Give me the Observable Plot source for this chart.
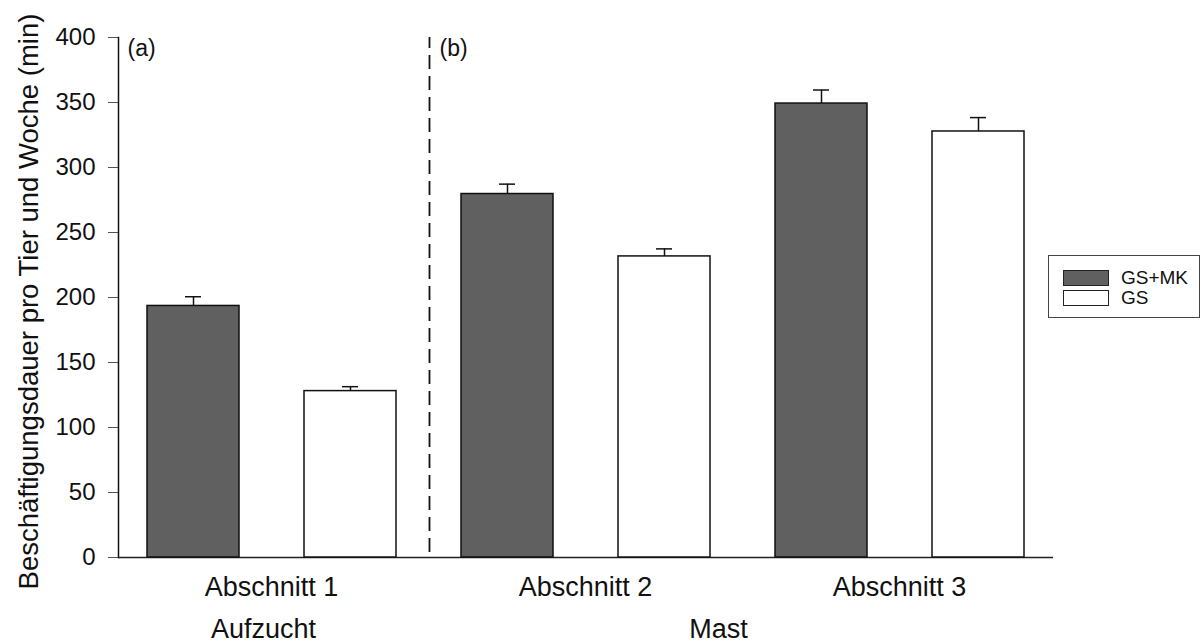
<!DOCTYPE html>
<html>
<head>
<meta charset="utf-8">
<script src="https://cdn.jsdelivr.net/npm/d3@7"></script>
<script src="https://cdn.jsdelivr.net/npm/@observablehq/plot@0.6"></script>
<style>
  html, body { margin: 0; padding: 0; background: #fff; }
  #wrap { position: relative; width: 1201px; height: 644px; font-family: "Liberation Sans", Arial, sans-serif; }
  #legend { position: absolute; left: 1048px; top: 255px; width: 152px; height: 63px; border: 1px solid #444; box-sizing: border-box; background: #fff; }
  .item { position: absolute; left: 14px; display: flex; align-items: center; font-size: 19px; line-height: 19px; height: 19px; color: #111; }
  .sw { width: 46px; height: 16px; border: 1px solid #222; box-sizing: border-box; margin-right: 12px; }
</style>
</head>
<body>
<div id="wrap"></div>
<script>
// ---- data ----
const sections = ["Abschnitt 1", "Abschnitt 2", "Abschnitt 3"];
const groups = ["GS+MK", "GS"];
const meanGSMK = [193.5, 279.6, 349.2];
const meanGS = [128.0, 231.6, 327.7];
const errGSMK = [7.1, 7.6, 10.4];
const errGS = [3.4, 5.8, 10.7];
const phases = ["Aufzucht", "Mast"];
const yTicks = [0, 50, 100, 150, 200, 250, 300, 350, 400];
const panelLabels = ["(a)", "(b)"];

const colors = {"GS+MK": "#606060", "GS": "#ffffff"};
const rows = [];
sections.forEach((s, i) => {
  rows.push({section: s, group: "GS+MK", key: s + "|GS+MK", mean: meanGSMK[i], err: errGSMK[i]});
  rows.push({section: s, group: "GS", key: s + "|GS", mean: meanGS[i], err: errGS[i]});
});
const keys = rows.map(d => d.key);

const font = "Liberation Sans, Arial, sans-serif";
const chart = Plot.plot({
  width: 1201,
  height: 644,
  marginLeft: 118,
  marginRight: 148,
  marginTop: 37,
  marginBottom: 87,
  style: {fontFamily: font, color: "#111", background: "#fff"},
  x: {type: "band", domain: keys, paddingInner: 0.414, paddingOuter: 0.18, axis: null},
  y: {domain: [0, 400], axis: null},
  marks: [
    Plot.axisY({ticks: yTicks, tickSize: 10, tickPadding: 13, fontSize: 24, stroke: "#555", fill: "#111", label: null}),
    Plot.frame({anchor: "left", stroke: "#111", strokeWidth: 1.5}),
    Plot.ruleY([0], {stroke: "#222", strokeWidth: 1.5}),
    // dashed separator between Aufzucht and Mast
    Plot.ruleX([sections[0] + "|GS"], {x: d => d, y1: 0, y2: 400, dx: 79, insetTop: -5, stroke: "#111", strokeWidth: 1.8, strokeDasharray: "14,7"}),
    // error bars
    Plot.ruleX(rows, {x: "key", y1: "mean", y2: d => d.mean + d.err, stroke: "#111", strokeWidth: 1.5}),
    Plot.tickY(rows, {x: "key", y: d => d.mean + d.err, insetLeft: 38, insetRight: 38, stroke: "#111", strokeWidth: 1.5}),
    // bars
    Plot.barY(rows, {x: "key", y: "mean", fill: d => colors[d.group], stroke: "#111", strokeWidth: 1.5}),
    // section labels
    Plot.text(sections, {x: d => d + "|GS+MK", frameAnchor: "bottom", dx: 78, dy: 30, lineAnchor: "middle", text: d => d, fontSize: 27, fill: "#111"}),
    // phase labels
    Plot.text([phases[0]], {x: () => sections[0] + "|GS+MK", frameAnchor: "bottom", dx: 70, dy: 72, lineAnchor: "middle", text: d => d, fontSize: 27, fill: "#111"}),
    Plot.text([phases[1]], {x: () => sections[1] + "|GS", frameAnchor: "bottom", dx: 54, dy: 72, lineAnchor: "middle", text: d => d, fontSize: 27, fill: "#111"}),
    // panel labels
    Plot.text([panelLabels[0]], {frameAnchor: "top-left", dx: 9, dy: 11, lineAnchor: "middle", textAnchor: "start", text: d => d, fontSize: 23, fill: "#111"}),
    Plot.text([panelLabels[1]], {x: () => sections[0] + "|GS", frameAnchor: "top", dx: 89, dy: 11, lineAnchor: "middle", textAnchor: "start", text: d => d, fontSize: 23, fill: "#111"}),
    // y axis title
    Plot.text(["Beschäftigungsdauer pro Tier und Woche (min)"], {frameAnchor: "left", dx: -89, dy: 4, rotate: -90, lineAnchor: "middle", textAnchor: "middle", text: d => d, fontSize: 27.5, fill: "#111"})
  ]
});
const wrap = document.getElementById("wrap");
wrap.appendChild(chart);

const legend = document.createElement("div");
legend.id = "legend";
groups.forEach((g, i) => {
  const it = document.createElement("div");
  it.className = "item";
  it.style.top = (12 + i * 20) + "px";
  const sw = document.createElement("div");
  sw.className = "sw";
  sw.style.background = colors[g];
  const lb = document.createElement("span");
  lb.textContent = g;
  it.appendChild(sw);
  it.appendChild(lb);
  legend.appendChild(it);
});
wrap.appendChild(legend);
</script>
</body>
</html>
